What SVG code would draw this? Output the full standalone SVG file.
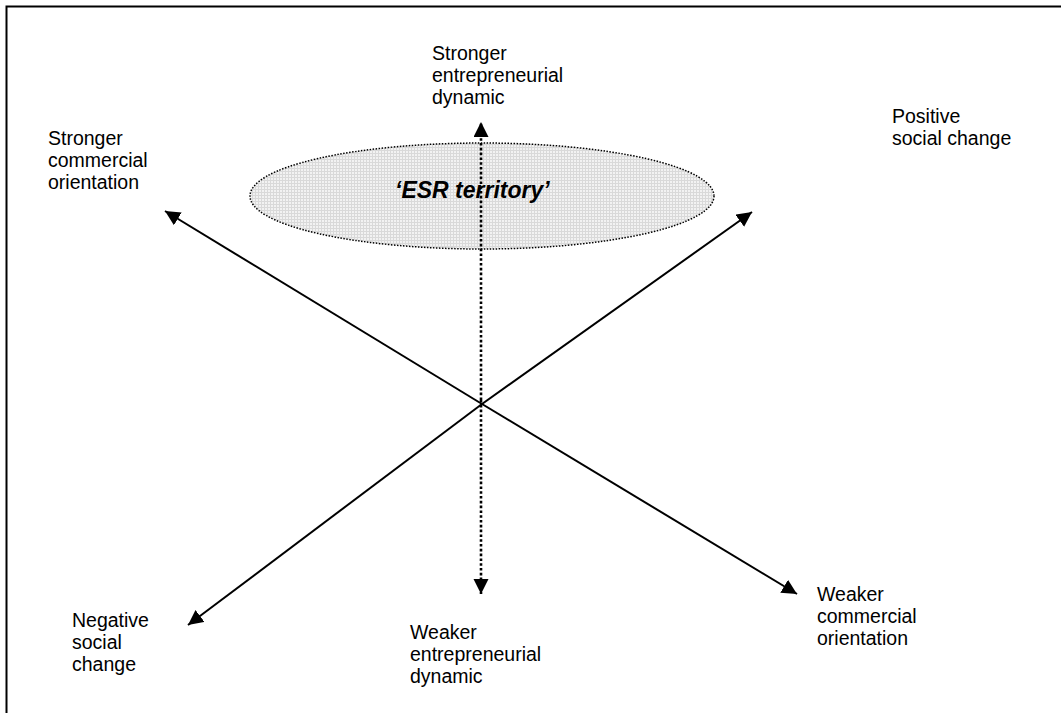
<svg xmlns="http://www.w3.org/2000/svg" width="1061" height="713" viewBox="0 0 1061 713">
<style>
.lbl{font-family:"Liberation Sans",Arial,sans-serif;font-size:19.5px;fill:#000}
.esr{font-family:"Liberation Sans",Arial,sans-serif;font-size:23px;font-weight:bold;font-style:italic;fill:#000}
.ax{stroke:#000;stroke-width:2;fill:none}
.dot{stroke-width:2.6;stroke-dasharray:2.6 2.2}
</style>
<defs>
<marker id="ah" markerUnits="userSpaceOnUse" markerWidth="16" markerHeight="16" refX="15" refY="7.5" orient="auto">
<path d="M0,0 L15,7.5 L0,15 Z" fill="#000"/>
</marker>
<pattern id="grid" width="3" height="3" patternUnits="userSpaceOnUse">
<rect width="3" height="3" fill="#f2f2f2"/>
<rect width="3" height="1" fill="#d9d9d9"/>
<rect width="1" height="3" fill="#d9d9d9"/>
</pattern>
</defs>
<rect width="1061" height="713" fill="#fff"/>
<path d="M6.5,713 V6.5 H1061" stroke="#000" stroke-width="2" fill="none"/>
<g id="esr-territory">
<ellipse cx="482" cy="196" rx="232" ry="53" fill="url(#grid)" stroke="#000" stroke-width="1.5" stroke-dasharray="1.5 1.5"/>
<text class="esr" x="395" y="198">‘ESR territory’</text>
</g>
<g id="connectors">
<line class="ax dot" x1="481" y1="400" x2="481" y2="122" marker-end="url(#ah)"/>
<line class="ax dot" x1="481" y1="400" x2="481" y2="594" marker-end="url(#ah)"/>
<line class="ax" x1="482" y1="404" x2="165" y2="211" marker-end="url(#ah)"/>
<line class="ax" x1="482" y1="404" x2="797" y2="594" marker-end="url(#ah)"/>
<line class="ax" x1="482" y1="404" x2="752" y2="212" marker-end="url(#ah)"/>
<line class="ax" x1="482" y1="404" x2="188" y2="625" marker-end="url(#ah)"/>
</g>
<g id="n-top"><text class="lbl" x="432" y="60">Stronger</text><text class="lbl" x="432" y="82">entrepreneurial</text><text class="lbl" x="432" y="104">dynamic</text></g>
<g id="n-topleft"><text class="lbl" x="48" y="145">Stronger</text><text class="lbl" x="48" y="167">commercial</text><text class="lbl" x="48" y="189">orientation</text></g>
<g id="n-topright"><text class="lbl" x="892" y="123">Positive</text><text class="lbl" x="892" y="145">social change</text></g>
<g id="n-bottomleft"><text class="lbl" x="72" y="627">Negative</text><text class="lbl" x="72" y="649">social</text><text class="lbl" x="72" y="671">change</text></g>
<g id="n-bottom"><text class="lbl" x="410" y="639">Weaker</text><text class="lbl" x="410" y="661">entrepreneurial</text><text class="lbl" x="410" y="683">dynamic</text></g>
<g id="n-bottomright"><text class="lbl" x="817" y="601">Weaker</text><text class="lbl" x="817" y="623">commercial</text><text class="lbl" x="817" y="645">orientation</text></g>
</svg>
